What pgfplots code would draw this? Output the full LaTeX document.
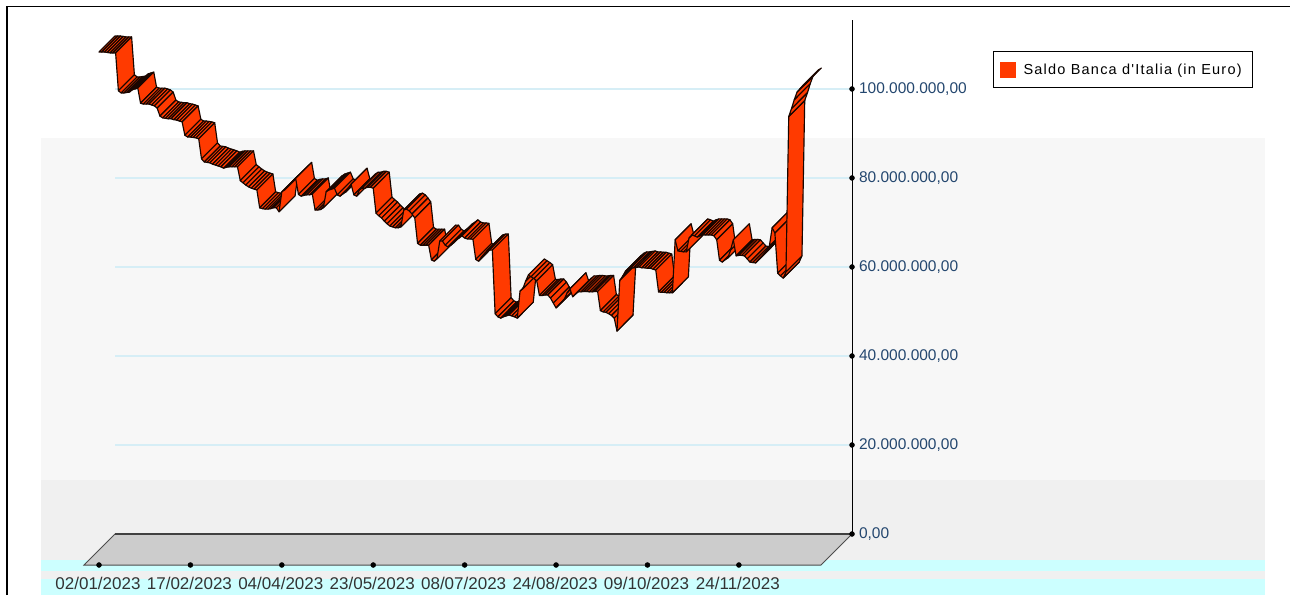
\documentclass[border=0pt]{standalone}
\usepackage{fontspec}
\setmainfont{Liberation Sans}
\newfontfamily\legfont[LetterSpace=8.5]{Liberation Sans}
\usepackage{pgfplots}
\usepackage{pgfplotstable}
\pgfplotsset{compat=1.18}
\definecolor{ribbon}{HTML}{FF3A00}
\definecolor{gridc}{HTML}{D6EEF6}
\definecolor{navy}{HTML}{24476F}
\definecolor{cyanb}{HTML}{CCFFFF}
\pgfplotstableread{
i v
0 108.3
1 108.3
2 108.3
3 108.2
4 108.1
5 108.1
6 108.1
7 99.6
8 99.1
9 99.1
10 99.2
11 99.3
12 99.8
13 100.0
14 100.2
15 96.8
16 96.6
17 96.6
18 96.6
19 96.4
20 96.2
21 95.7
22 93.9
23 93.5
24 93.4
25 93.3
26 93.3
27 93.1
28 93.0
29 92.8
30 92.6
31 89.6
32 89.2
33 89.2
34 89.1
35 89.0
36 88.8
37 84.3
38 83.6
39 83.5
40 83.4
41 83.1
42 82.9
43 82.7
44 82.5
45 82.2
46 82.4
47 82.5
48 82.5
49 82.5
50 82.5
51 79.4
52 78.9
53 78.4
54 78.0
55 77.7
56 77.5
57 77.3
58 73.3
59 73.1
60 73.0
61 73.0
62 73.1
63 73.3
64 73.3
65 72.4
66 76.9
67 77.3
68 78.0
69 78.6
70 79.3
71 79.9
72 76.3
73 75.9
74 76.1
75 76.2
76 76.2
77 76.4
78 72.8
79 72.8
80 72.9
81 73.3
82 76.9
83 77.3
84 77.5
85 77.7
86 76.2
87 75.9
88 76.4
89 76.8
90 77.7
91 78.6
92 76.2
93 75.9
94 77.3
95 77.7
96 77.7
97 77.9
98 77.9
99 77.7
100 72.1
101 71.5
102 71.0
103 70.3
104 69.7
105 69.2
106 69.0
107 68.8
108 68.8
109 69.0
110 72.8
111 73.0
112 72.6
113 71.9
114 71.0
115 65.3
116 64.9
117 64.9
118 64.9
119 64.9
120 61.6
121 61.3
122 61.8
123 65.8
124 65.8
125 64.9
126 64.5
127 64.9
128 65.4
129 66.1
130 66.5
131 67.0
132 66.5
133 66.3
134 66.3
135 66.2
136 61.7
137 61.3
138 62.2
139 62.9
140 63.6
141 63.8
142 63.8
143 49.5
144 48.8
145 48.5
146 48.8
147 49.0
148 49.2
149 49.0
150 48.8
151 48.5
152 54.6
153 55.1
154 56.8
155 58.2
156 57.8
157 57.4
158 56.9
159 53.6
160 53.6
161 53.7
162 53.7
163 53.0
164 51.9
165 50.8
166 51.5
167 52.1
168 52.8
169 54.2
170 55.1
171 53.3
172 53.9
173 54.4
174 54.4
175 54.5
176 54.5
177 54.4
178 54.4
179 54.5
180 54.5
181 50.2
182 49.9
183 49.8
184 49.5
185 49.1
186 48.5
187 45.6
188 57.0
189 57.9
190 59.0
191 59.5
192 59.8
193 59.8
194 59.9
195 60.0
196 59.8
197 59.8
198 59.7
199 59.7
200 59.5
201 59.3
202 54.4
203 54.3
204 54.3
205 54.2
206 54.2
207 54.2
208 66.1
209 63.6
210 63.5
211 63.4
212 63.4
213 66.5
214 67.2
215 67.0
216 66.7
217 67.0
218 67.2
219 67.2
220 67.2
221 67.2
222 67.0
223 66.1
224 61.5
225 61.1
226 61.6
227 62.0
228 63.8
229 66.1
230 62.5
231 62.6
232 62.6
233 62.5
234 61.8
235 61.1
236 61.0
237 60.9
238 61.6
239 62.2
240 62.9
241 63.8
242 64.7
243 68.8
244 67.6
245 58.6
246 58.0
247 57.5
248 58.9
249 93.8
250 95.6
251 97.6
252 99.3
253 100.0
254 100.7
255 101.1
}\ribbontable
\begin{document}
\begin{tikzpicture}[x=1pt,y=1pt]
\useasboundingbox (0,0) rectangle (1290,595);
\fill[white] (0,0) rectangle (1290,595);
% background bands
\fill[white!97!black] (41,115) rectangle (1265,457);
\fill[white!94!black] (41,35) rectangle (1265,115);
\fill[cyanb] (41,24) rectangle (1265,35);
\fill[white!94!black] (41,16) rectangle (1265,24);
\fill[cyanb] (41,0) rectangle (1265,16);
\draw[black,line width=1.4pt] (7,0) -- (7,588.5) -- (1290,588.5);
\begin{axis}[
  at={(84pt,30pt)},anchor=south west,
  scale only axis,width=768pt,height=545pt,
  xmin=-5.415,xmax=271.84,ymin=-6.966,ymax=115.5,
  clip=false,
  axis line style={draw=none},
  tick style={draw=none},
  ytick={0,20,40,60,80,100},
  yticklabels={{0,00},{20.000.000,00},{40.000.000,00},{60.000.000,00},{80.000.000,00},{100.000.000,00}},
  ytick pos=right,yticklabel pos=right,
  yticklabel style={text=navy,font=\fontsize{15.5}{18}\selectfont,xshift=3.5pt},
  xtick={0,33,66,99,132,165,198,231},
  xticklabels={02/01/2023,17/02/2023,04/04/2023,23/05/2023,08/07/2023,24/08/2023,09/10/2023,24/11/2023},
  xticklabel style={text=black!80,font=\fontsize{17}{18}\selectfont,yshift=-9pt,xshift=-1pt},
  legend style={at={(1.1836,0.943)},anchor=north west,draw=black,line width=1pt,fill=white,
    font=\legfont\fontsize{14.5}{17}\selectfont,inner xsep=6pt,inner ysep=10pt},
  legend cell align=left,
]
% grid lines
\addplot[gridc,line width=1.3pt,forget plot] coordinates {(5.776,20) (271.84,20)};
\addplot[gridc,line width=1.3pt,forget plot] coordinates {(5.776,40) (271.84,40)};
\addplot[gridc,line width=1.3pt,forget plot] coordinates {(5.776,60) (271.84,60)};
\addplot[gridc,line width=1.3pt,forget plot] coordinates {(5.776,80) (271.84,80)};
\addplot[gridc,line width=1.3pt,forget plot] coordinates {(5.776,100) (271.84,100)};
% floor
\addplot[fill=black!20,draw=black!70,line width=1pt,forget plot] coordinates {(-5.415,-6.966) (5.776,0) (271.84,0) (260.65,-6.966)} --cycle;
\addplot[black!75,line width=1.6pt,forget plot] coordinates {(5.776,0) (271.84,0)};
% value axis
\addplot[black,line width=1pt,forget plot] coordinates {(271.84,0) (271.84,115.5)};
\addplot[only marks,mark=*,mark size=2.5pt,black,forget plot] coordinates {(271.84,0) (271.84,20) (271.84,40) (271.84,60) (271.84,80) (271.84,100)};
\addplot[only marks,mark=*,mark size=2.5pt,black,forget plot] coordinates {(0,-6.966) (33,-6.966) (66,-6.966) (99,-6.966) (132,-6.966) (165,-6.966) (198,-6.966) (231,-6.966)};
% ribbon
\foreach \k [evaluate=\k as \n using int(\k+1)] in {0,...,254}{
  \pgfplotstablegetelem{\k}{v}\of\ribbontable \let\va\pgfplotsretval
  \pgfplotstablegetelem{\n}{v}\of\ribbontable \let\vb\pgfplotsretval
  \pgfmathsetmacro\xb{\k+5.776}
  \pgfmathsetmacro\xc{\n+5.776}
  \pgfmathsetmacro\ya{\va+3.6}
  \pgfmathsetmacro\yb{\vb+3.6}
  \edef\tmp{\noexpand\addplot[fill=ribbon,draw=black!90!ribbon,line width=1.15pt,line join=round,forget plot]
    coordinates {(\k,\va) (\n,\vb) (\xc,\yb) (\xb,\ya)} --cycle;}
  \tmp
}
\addlegendimage{legend image code/.code={\fill[ribbon] (0pt,-7.5pt) rectangle (15pt,7.5pt);}}
\addlegendentry{\hspace*{6pt}Saldo Banca d'Italia (in Euro)\hspace*{3pt}}
\end{axis}
\end{tikzpicture}
\end{document}
